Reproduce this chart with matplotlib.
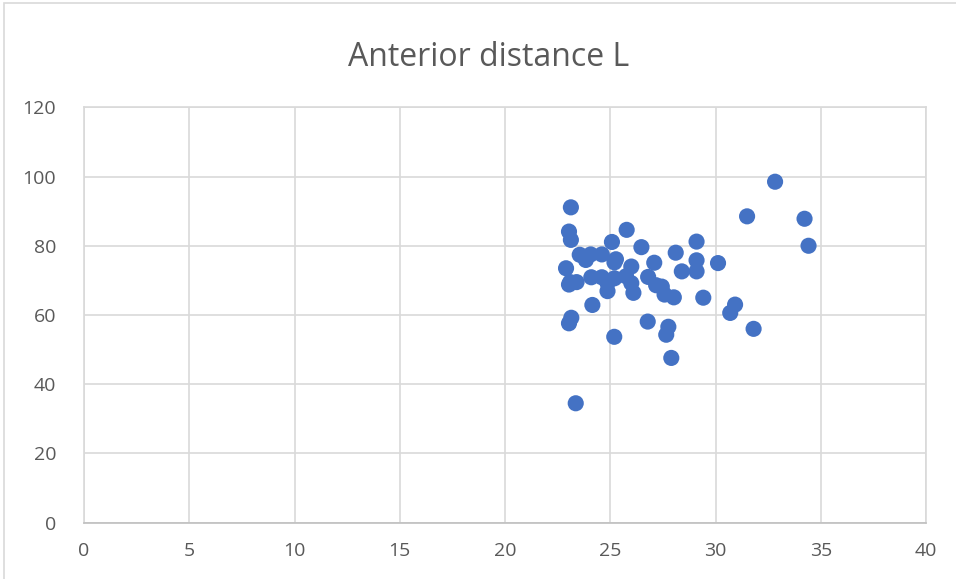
import matplotlib
matplotlib.use("Agg")
import matplotlib.pyplot as plt
from matplotlib.patches import Rectangle

title = "Anterior distance L"
x_vals = [32.83, 31.50, 34.23, 34.42, 23.13, 23.04, 23.13, 25.78, 25.08, 26.48,
          29.10, 28.11, 23.55, 24.07, 24.60, 23.84, 25.27, 25.20, 27.09, 29.10,
          30.12, 28.40, 29.10, 22.90, 26.00, 23.04, 23.10, 23.40, 24.10, 24.60,
          24.87, 24.87, 25.20, 25.75, 26.00, 26.10, 26.80, 27.18, 27.45, 27.58,
          28.02, 29.42, 24.15, 30.93, 30.70, 23.04, 23.15, 26.78, 27.76, 27.66,
          31.81, 25.19, 27.90, 23.36]
y_vals = [98.5, 88.5, 87.8, 80.0, 91.1, 84.1, 81.7, 84.6, 81.1, 79.6,
          81.2, 78.0, 77.4, 77.5, 77.5, 75.9, 76.1, 75.2, 75.1, 75.8,
          75.0, 72.6, 72.6, 73.5, 74.0, 68.8, 69.5, 69.5, 70.9, 70.9,
          69.2, 66.9, 70.6, 71.2, 69.2, 66.4, 71.0, 68.6, 68.2, 65.9,
          65.1, 65.0, 62.9, 63.0, 60.6, 57.6, 59.2, 58.1, 56.6, 54.3,
          56.0, 53.7, 47.6, 34.5]
x_ticks = [0, 5, 10, 15, 20, 25, 30, 35, 40]
y_ticks = [0, 20, 40, 60, 80, 100, 120]

plt.rcParams['font.family'] = ['Open Sans', 'DejaVu Sans']

fig = plt.figure(figsize=(9.56, 5.79), dpi=100)
fig.patches.append(Rectangle((4/956, -0.1), 1.2, 1.1 - 3/579, transform=fig.transFigure,
                             fill=False, edgecolor='#D9D9D9', linewidth=1.2))
ax = fig.add_axes([84/956, 1 - 522.7/579, (926 - 84)/956, (522.7 - 107.3)/579])

ax.scatter(x_vals, y_vals, s=135, color='#4472C4', edgecolors='none', zorder=3)

ax.set_xlim(0, 40)
ax.set_ylim(0, 120)
ax.set_xticks(x_ticks)
ax.set_yticks(y_ticks)
ax.grid(True, color='#D9D9D9', linewidth=1.2, zorder=0)
ax.set_axisbelow(True)
for side in ['top', 'right', 'left']:
    ax.spines[side].set_color('#D9D9D9')
    ax.spines[side].set_linewidth(1.2)
ax.spines['bottom'].set_color('#BFBFBF')
ax.spines['bottom'].set_linewidth(1.2)
ax.tick_params(axis='both', length=0, labelsize=14, labelcolor='#595959')
ax.tick_params(axis='x', pad=14)
ax.tick_params(axis='y', pad=20)

fig.text(489/956, 1 - 57/579, title, ha='center', va='center', fontsize=23,
         color='#595959')

fig.savefig('out.png', dpi=100)
